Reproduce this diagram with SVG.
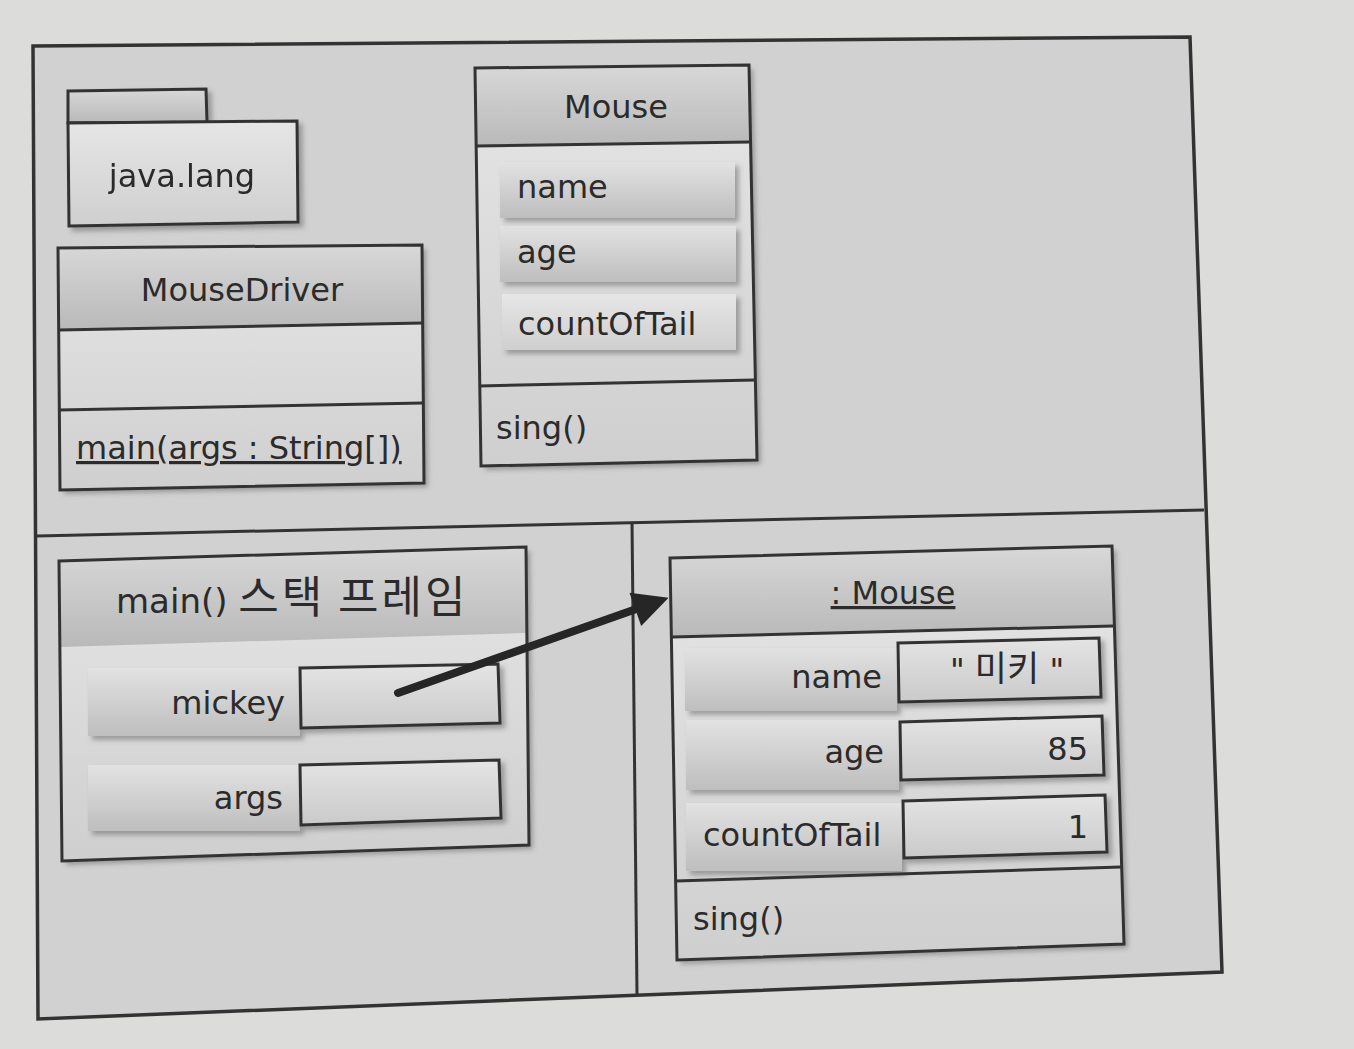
<svg xmlns="http://www.w3.org/2000/svg" width="1354" height="1049" viewBox="0 0 1354 1049">
<style>
  .ol { fill: none; stroke: #333; stroke-width: 3; stroke-linejoin: miter; }
  .t { font-family: "DejaVu Sans", "Noto Sans CJK KR", sans-serif; font-size: 32px; fill: #2b2b2b; }
  .k { font-family: "Noto Sans CJK KR", sans-serif; }
  .mid { text-anchor: middle; }
  .end { text-anchor: end; }
  .u { text-decoration: underline; }
</style>
<defs>
  <linearGradient id="gBox" x1="0" y1="0" x2="0" y2="1">
    <stop offset="0" stop-color="#e6e6e6"/>
    <stop offset="1" stop-color="#cfcfcf"/>
  </linearGradient>
  <linearGradient id="gHead" x1="0" y1="0" x2="0" y2="1">
    <stop offset="0" stop-color="#d8d8d8"/>
    <stop offset="1" stop-color="#b9b9b9"/>
  </linearGradient>
  <linearGradient id="gBar" x1="0" y1="0" x2="0" y2="1">
    <stop offset="0" stop-color="#e2e2e2"/>
    <stop offset="1" stop-color="#bebebe"/>
  </linearGradient>
  <linearGradient id="gVal" x1="0" y1="0" x2="0" y2="1">
    <stop offset="0" stop-color="#e4e4e4"/>
    <stop offset="1" stop-color="#cacaca"/>
  </linearGradient>
  <filter id="sh" x="-10%" y="-10%" width="125%" height="125%">
    <feDropShadow dx="4" dy="4" stdDeviation="2.5" flood-color="#555" flood-opacity="0.45"/>
  </filter>
  <marker id="ah" viewBox="0 0 10 10" refX="2" refY="5" markerWidth="5" markerHeight="4.4" markerUnits="strokeWidth" orient="auto">
    <path d="M0,0 L10,5 L0,10 Z" fill="#262626"/>
  </marker>
</defs>

<!-- page -->
<rect x="0" y="0" width="1354" height="1049" fill="#dcdcda"/>

<!-- frame -->
<g id="frame">
  <path d="M33,46 L1190,37 L1222,972 L38,1019 Z" fill="#d1d1d1" stroke="#333" stroke-width="3.5"/>
  <path d="M37,536 L1204,510" class="ol"/>
  <path d="M632,522 L637,994" class="ol"/>
</g>

<!-- java.lang package -->
<g id="pkg-java-lang" filter="url(#sh)">
  <path d="M68,91 L206,89 L207,122 L68,123 Z" style="fill:url(#gHead)" class="ol"/>
  <path d="M68,123 L297,121 L298,222 L69,226 Z" style="fill:url(#gBox)" class="ol"/>
  <text x="182" y="187" class="t mid">java.lang</text>
</g>

<!-- MouseDriver class -->
<g id="class-MouseDriver">
  <path d="M58,248 L422,245 L424,483 L60,490 Z" style="fill:url(#gBox)" filter="url(#sh)"/>
  <path d="M58,248 L422,245 L423,323 L59,330 Z" style="fill:url(#gHead)"/>
  <path d="M58,248 L422,245 L424,483 L60,490 Z" class="ol"/>
  <path d="M59,330 L423,323" class="ol"/>
  <path d="M59,410 L423,403" class="ol"/>
  <text x="242" y="301" class="t mid">MouseDriver</text>
  <text x="76" y="459" class="t u">main(args : String[])</text>
</g>

<!-- Mouse class -->
<g id="class-Mouse">
  <path d="M475,68 L749,65 L757,460 L481,466 Z" style="fill:url(#gBox)" filter="url(#sh)"/>
  <path d="M475,68 L749,65 L750,142 L477,146 Z" style="fill:url(#gHead)"/>
  <rect x="500" y="162" width="235" height="56" style="fill:url(#gBar)" filter="url(#sh)"/>
  <rect x="500" y="226" width="236" height="56" style="fill:url(#gBar)" filter="url(#sh)"/>
  <rect x="502" y="294" width="234" height="56" style="fill:url(#gBox)" filter="url(#sh)"/>
  <path d="M475,68 L749,65 L757,460 L481,466 Z" class="ol"/>
  <path d="M477,146 L750,142" class="ol"/>
  <path d="M479,386 L755,380" class="ol"/>
  <text x="616" y="118" class="t mid">Mouse</text>
  <text x="517" y="198" class="t">name</text>
  <text x="517" y="263" class="t">age</text>
  <text x="518" y="335" class="t">countOfTail</text>
  <text x="496" y="439" class="t">sing()</text>
</g>

<!-- main() stack frame -->
<g id="stack-main">
  <path d="M59,561 L526,547 L529,845 L62,861 Z" style="fill:url(#gBox)" filter="url(#sh)"/>
  <path d="M59,561 L526,547 L527,633 L60,647 Z" style="fill:url(#gHead)"/>
  <rect x="88" y="668" width="212" height="68" style="fill:url(#gBar)" filter="url(#sh)"/>
  <rect x="88" y="765" width="212" height="66" style="fill:url(#gBar)" filter="url(#sh)"/>
  <path d="M300,668 L498,664 L500,723 L301,728 Z" style="fill:url(#gVal)" class="ol" filter="url(#sh)"/>
  <path d="M300,765 L499,760 L501,818 L301,825 Z" style="fill:url(#gVal)" class="ol" filter="url(#sh)"/>
  <path d="M59,561 L526,547 L529,845 L62,861 Z" class="ol"/>
  <text x="116" y="613" class="t" style="font-size:34px">main() <tspan class="k" style="font-size:44px;letter-spacing:3px">스택 프레임</tspan></text>
  <text x="285" y="714" class="t end">mickey</text>
  <text x="283" y="809" class="t end">args</text>
</g>

<!-- Mouse object -->
<g id="obj-mouse">
  <path d="M670,558 L1112,546 L1124,944 L677,960 Z" style="fill:url(#gBox)" filter="url(#sh)"/>
  <path d="M670,558 L1112,546 L1113,626 L672,637 Z" style="fill:url(#gHead)"/>
  <rect x="685" y="648" width="212" height="63" style="fill:url(#gBar)" filter="url(#sh)"/>
  <rect x="686" y="720" width="213" height="70" style="fill:url(#gBar)" filter="url(#sh)"/>
  <rect x="686" y="803" width="216" height="68" style="fill:url(#gBar)" filter="url(#sh)"/>
  <path d="M898,643 L1099,638 L1101,697 L899,702 Z" style="fill:url(#gVal)" class="ol" filter="url(#sh)"/>
  <path d="M900,722 L1102,716 L1104,775 L901,780 Z" style="fill:url(#gVal)" class="ol" filter="url(#sh)"/>
  <path d="M903,801 L1105,795 L1107,852 L904,858 Z" style="fill:url(#gVal)" class="ol" filter="url(#sh)"/>
  <path d="M670,558 L1112,546 L1124,944 L677,960 Z" class="ol"/>
  <path d="M672,637 L1113,626" class="ol"/>
  <path d="M676,881 L1121,867" class="ol"/>
  <text x="893" y="604" class="t mid u">: Mouse</text>
  <text x="882" y="688" class="t end">name</text>
  <text x="1007" y="681" class="t mid">" <tspan class="k" style="font-size:35px">미키</tspan> "</text>
  <text x="884" y="763" class="t end">age</text>
  <text x="1088" y="760" class="t end">85</text>
  <text x="703" y="846" class="t">countOfTail</text>
  <text x="1088" y="838" class="t end">1</text>
  <text x="693" y="930" class="t">sing()</text>
</g>

<!-- connectors -->
<g id="connectors">
  <path d="M398,693 L642,607" fill="none" stroke="#262626" stroke-width="8" stroke-linecap="round" marker-end="url(#ah)"/>
</g>
</svg>
